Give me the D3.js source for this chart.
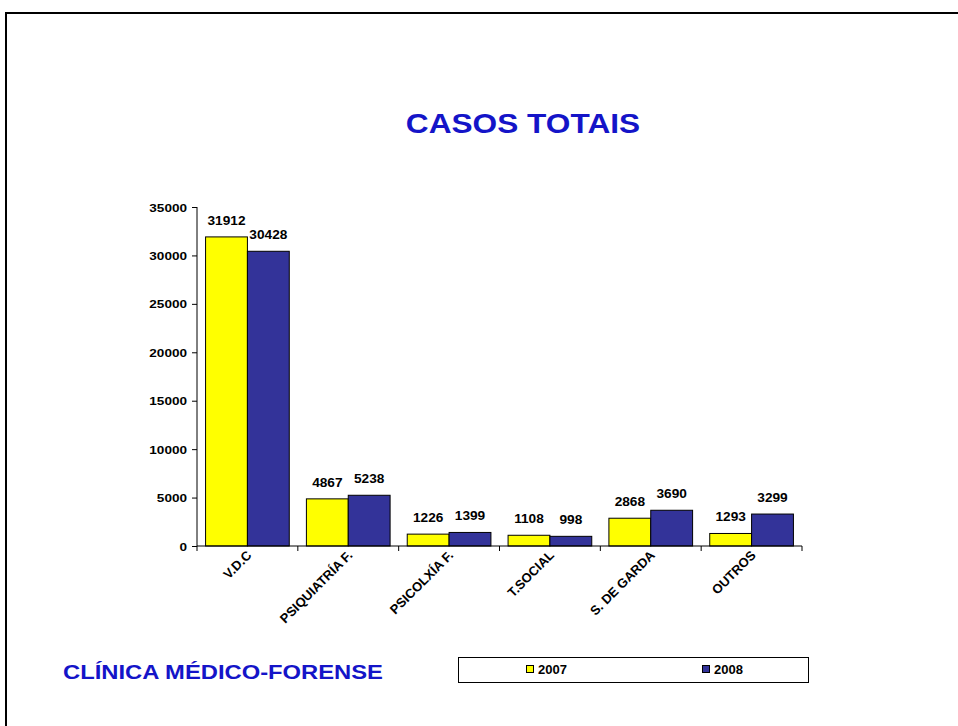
<!DOCTYPE html>
<html lang="gl">
<head>
<meta charset="utf-8"/>
<title>Casos totais</title>
<script src="https://cdnjs.cloudflare.com/ajax/libs/d3/7.8.5/d3.min.js"></script>
<style>
  body { margin: 0; background: white; }
  svg text { font-family: Arial, "Liberation Sans", sans-serif; font-weight: bold; fill: black; }
</style>
</head>
<body>
<div id="chart"></div>
<script>
// data
var categories = ["V.D.C", "PSIQUIATRÍA F.", "PSICOLXÍA F.", "T.SOCIAL", "S. DE GARDA", "OUTROS"];
var years = ["2007", "2008"];
var values2007 = [31912, 4867, 1226, 1108, 2868, 1293];
var values2008 = [30428, 5238, 1399, 998, 3690, 3299];
var yTicks = [0, 5000, 10000, 15000, 20000, 25000, 30000, 35000];
var colors = ["#FFFF00", "#333399"];

var W = 958, H = 726;
var svg = d3.select("#chart").append("svg").attr("width", W).attr("height", H);

// the original text is a bit wider than plain Arial, so stretch it
function stretched(sel, x, y, sx) {
  return sel.append("text").attr("transform", "translate(" + x + "," + y + ") scale(" + sx + ",1)");
}

// outer frame (only top and left edges show)
svg.append("path")
  .attr("d", "M6,726 L6,13 L958,13")
  .attr("fill", "none").attr("stroke", "black").attr("stroke-width", 2);

stretched(svg, 523, 133, 1.13)
  .attr("text-anchor", "middle")
  .style("fill", "#1414C8")
  .style("font-size", "28px")
  .text("CASOS TOTAIS");

var x0 = d3.scaleBand().domain(categories).range([197, 802]).paddingInner(0.17).paddingOuter(0.085);
var x1 = d3.scaleBand().domain(years).range([0, x0.bandwidth()]);
var y = d3.scaleLinear().domain([0, 35000]).range([546, 207]);

var rows = categories.map(function(c, i) {
  return { cat: c, vals: [values2007[i], values2008[i]] };
});

var groups = svg.selectAll("g.grp").data(rows).enter().append("g")
  .attr("transform", function(d) { return "translate(" + x0(d.cat) + ",0)"; });

groups.selectAll("rect").data(function(d) { return d.vals; }).enter().append("rect")
  .attr("x", function(d, i) { return x1(years[i]); })
  .attr("y", function(d) { return y(d); })
  .attr("width", x1.bandwidth())
  .attr("height", function(d) { return y(0) - y(d); })
  .attr("fill", function(d, i) { return colors[i]; })
  .attr("stroke", "black").attr("stroke-width", 1);

groups.each(function(d) {
  var g = d3.select(this);
  d.vals.forEach(function(v, i) {
    stretched(g, x1(years[i]) + x1.bandwidth() / 2, y(v) - 12, 1.14)
      .attr("text-anchor", "middle")
      .style("font-size", "12px")
      .text(v);
  });
});

// y axis
var yAxis = d3.axisLeft(y).tickValues(yTicks).tickSize(5).tickPadding(5).tickFormat(d3.format("d"));
var gy = svg.append("g").attr("transform", "translate(197,0)").call(yAxis);
gy.select(".domain").attr("d", "M0,207V546");
gy.selectAll(".tick text").remove();
gy.selectAll(".tick").each(function(d) {
  stretched(d3.select(this), -10, 4, 1.18)
    .attr("text-anchor", "end")
    .style("font-size", "11.5px")
    .text(d);
});

// x axis with ticks between categories
var gx = svg.append("g").attr("transform", "translate(0,546)");
gx.append("line").attr("x1", 197).attr("x2", 802).attr("stroke", "black");
gx.selectAll("line.tk").data(d3.range(categories.length + 1)).enter().append("line")
  .attr("class", "tk")
  .attr("x1", function(i) { return 197 + i * (605 / categories.length); })
  .attr("x2", function(i) { return 197 + i * (605 / categories.length); })
  .attr("y1", 0).attr("y2", 5).attr("stroke", "black");

gx.selectAll("text").data(categories).enter().append("text")
  .attr("transform", function(d) {
    return "translate(" + (x0(d) + x0.bandwidth() / 2 + 5) + ",10) rotate(-45)";
  })
  .attr("text-anchor", "end")
  .style("font-size", "13px")
  .text(function(d) { return d; });

// footer
stretched(svg, 63, 679, 1.16)
  .style("fill", "#1414C8")
  .style("font-size", "20.5px")
  .text("CLÍNICA MÉDICO-FORENSE");

// legend
var lg = svg.append("g");
lg.append("rect").attr("x", 458.5).attr("y", 657.5).attr("width", 350).attr("height", 25)
  .attr("fill", "white").attr("stroke", "black");
var legX = [526, 702];
years.forEach(function(yr, i) {
  lg.append("rect").attr("x", legX[i] + 0.5).attr("y", 665.5).attr("width", 7).attr("height", 7)
    .attr("fill", colors[i]).attr("stroke", "black");
  lg.append("text").attr("x", legX[i] + 12).attr("y", 674)
    .style("font-size", "13px").text(yr);
});
</script>
</body>
</html>
